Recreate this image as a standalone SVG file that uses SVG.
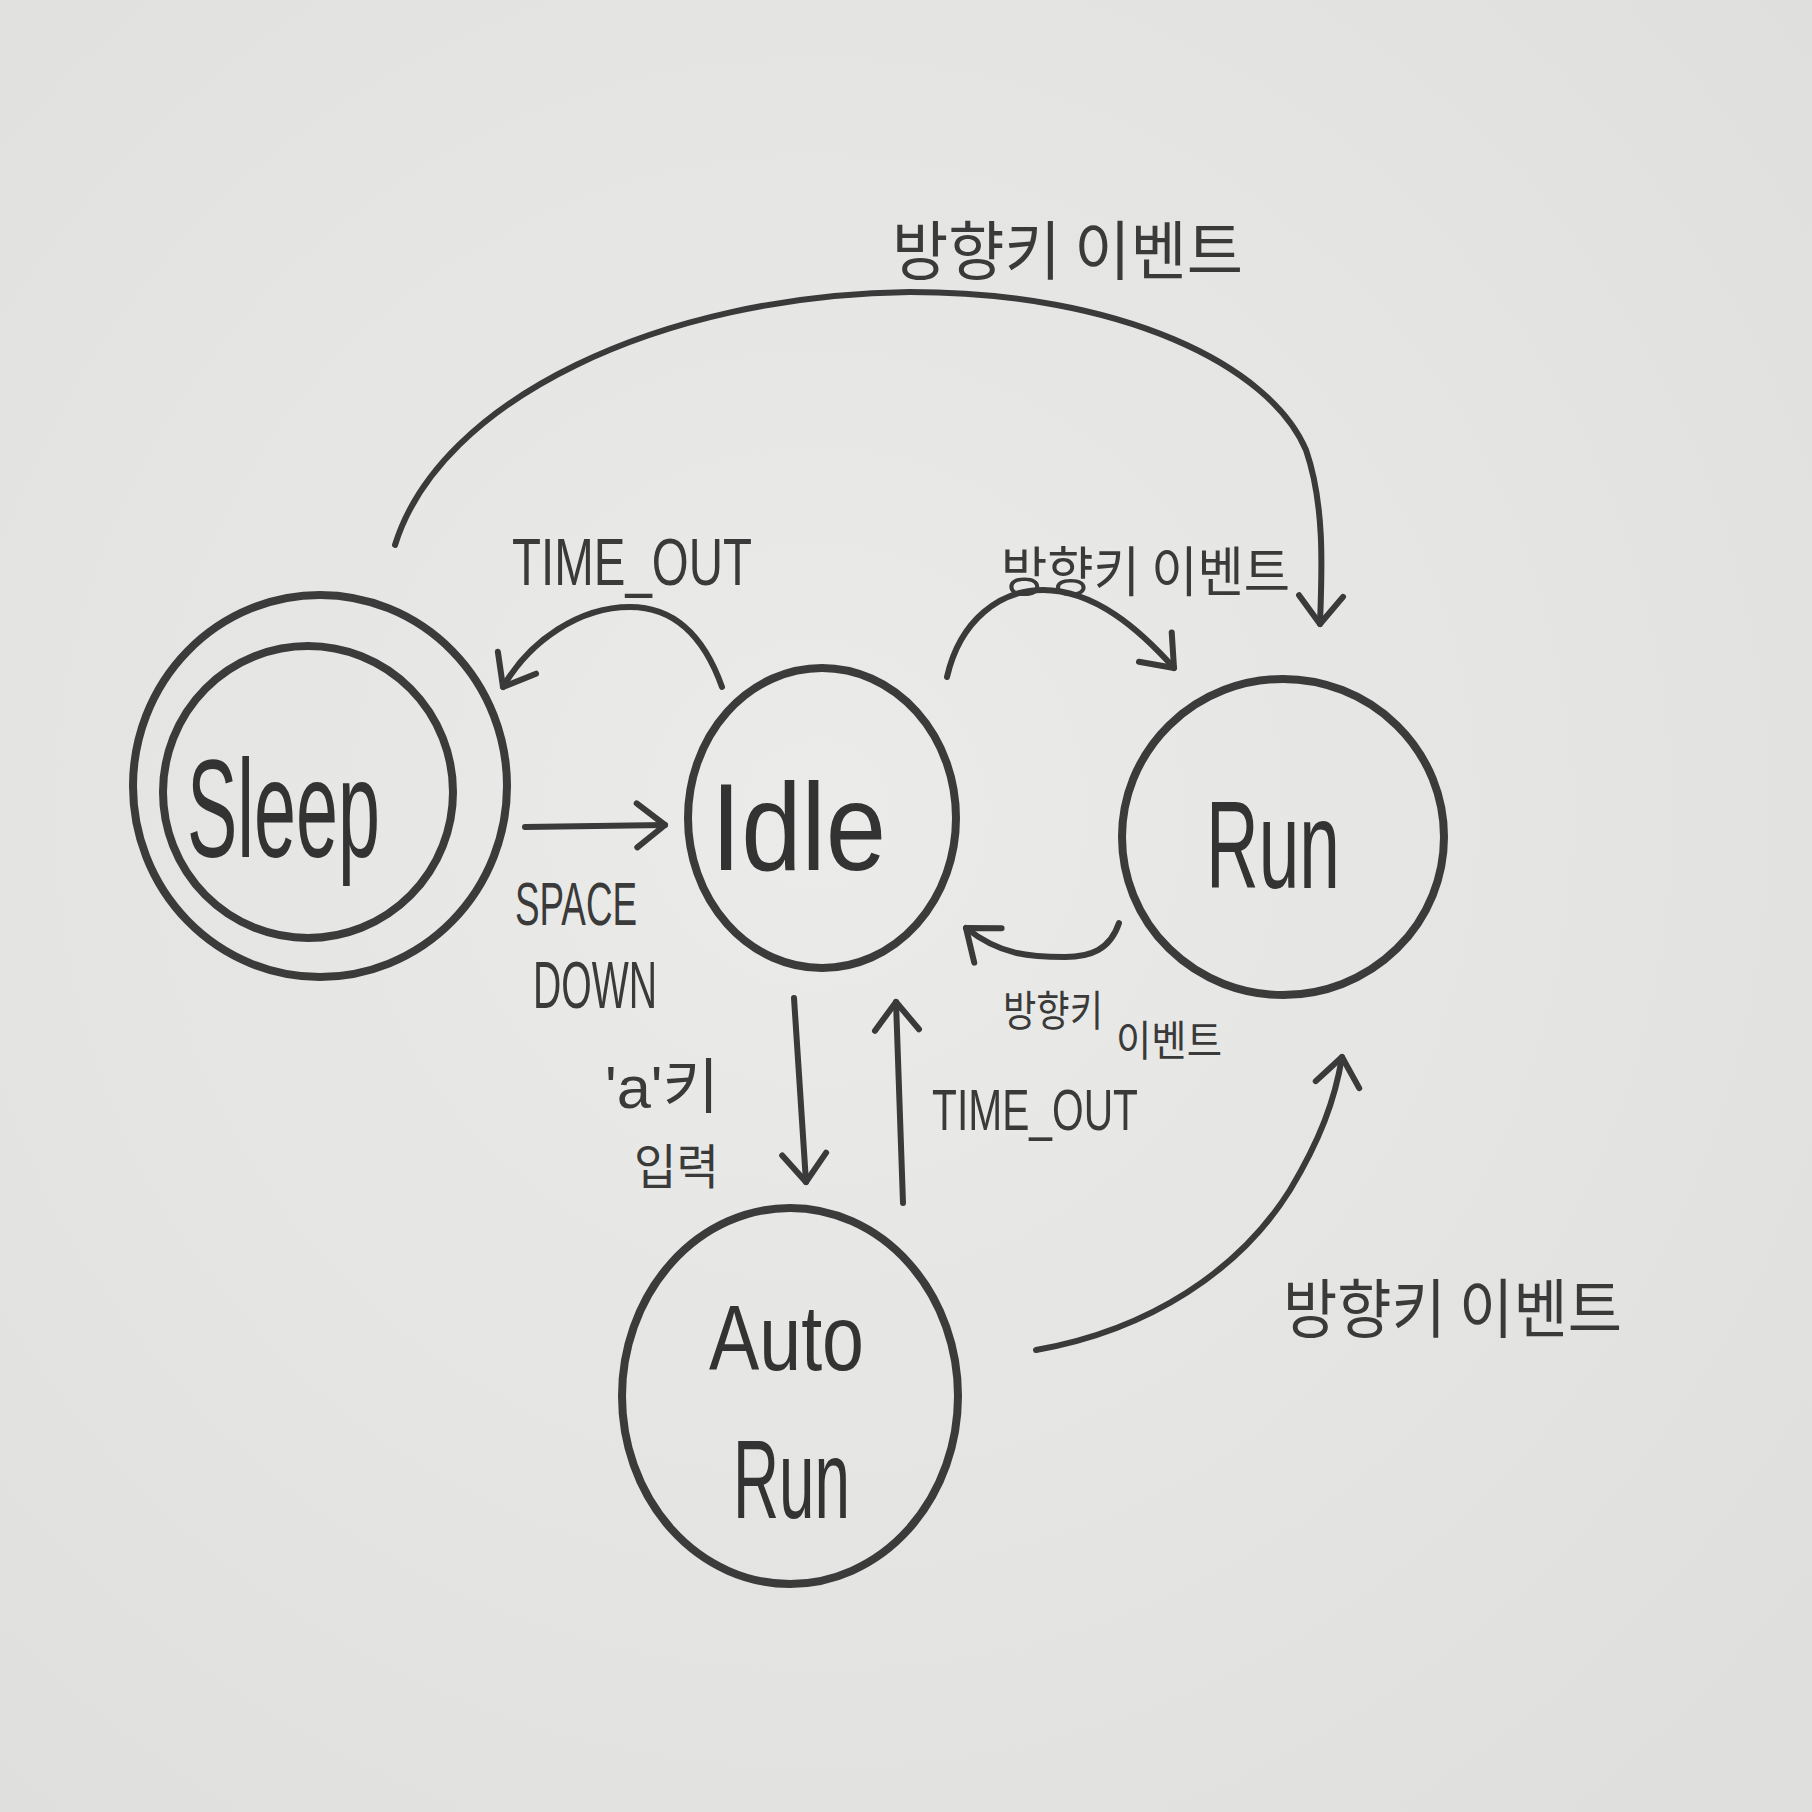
<svg xmlns="http://www.w3.org/2000/svg" width="1812" height="1812" viewBox="0 0 1812 1812">
  <defs>
    <radialGradient id="paper" cx="0.45" cy="0.45" r="0.8">
      <stop offset="0" stop-color="#ebebe9"/>
      <stop offset="1" stop-color="#dededc"/>
    </radialGradient>
    <marker id="head" markerUnits="userSpaceOnUse" markerWidth="60" markerHeight="60" viewBox="-40 -30 50 60" refX="0" refY="0" orient="auto">
      <path d="M-28,-22 L0,0 L-28,22" fill="none" stroke="#3a3a3a" stroke-width="6" stroke-linecap="round" stroke-linejoin="round"/>
    </marker>
    <style>
      .node { fill: none; stroke: #3b3b3b; stroke-width: 8; }
      .edge { fill: none; stroke: #3a3a3a; stroke-width: 6; stroke-linecap: round; marker-end: url(#head); }
      .name { font-family: "Liberation Sans", Arial, sans-serif; fill: #333333; }
      .lat { font-family: "Liberation Sans", Arial, "Noto Sans CJK KR", sans-serif; fill: #3a3a3a; }
      .kr { font-family: "Noto Sans CJK KR", "Noto Sans CJK SC", sans-serif; fill: #3a3a3a; }
    </style>
  </defs>

  <rect x="0" y="0" width="1812" height="1812" fill="url(#paper)"/>

  <g id="node-sleep">
    <ellipse class="node" cx="320" cy="786" rx="187" ry="191"/>
    <ellipse class="node" cx="308" cy="792" rx="145" ry="146"/>
    <text class="name" x="187" y="857" font-size="140" textLength="193" lengthAdjust="spacingAndGlyphs">Sleep</text>
  </g>

  <g id="node-idle">
    <ellipse class="node" cx="822" cy="818" rx="134" ry="150"/>
    <text class="name" x="711" y="870" font-size="125" textLength="175" lengthAdjust="spacingAndGlyphs">Idle</text>
  </g>

  <g id="node-run">
    <ellipse class="node" cx="1283" cy="837" rx="161" ry="158"/>
    <text class="name" x="1206" y="888" font-size="125" textLength="134" lengthAdjust="spacingAndGlyphs">Run</text>
  </g>

  <g id="node-autorun">
    <ellipse class="node" cx="790" cy="1396" rx="168" ry="188"/>
    <text class="name" x="709" y="1370" font-size="93" textLength="155" lengthAdjust="spacingAndGlyphs">Auto</text>
    <text class="name" x="733" y="1518" font-size="112" textLength="117" lengthAdjust="spacingAndGlyphs">Run</text>
  </g>

  <g id="connectors">
    <path class="edge" d="M395,545 C440,400 660,295 910,292 C1120,292 1270,365 1306,450 C1325,505 1322,570 1320,624"/>
    <path class="edge" d="M722,687 C700,625 665,607 630,607 C580,607 530,640 503,687"/>
    <path class="edge" d="M947,677 C960,620 1000,590 1043,590 C1095,590 1140,630 1174,668"/>
    <path class="edge" d="M525,827 L665,825"/>
    <path class="edge" d="M1119,923 C1110,950 1090,957 1065,957 C1030,957 1000,955 966,928"/>
    <path class="edge" d="M794,998 L806,1182"/>
    <path class="edge" d="M903,1203 L896,1002"/>
    <path class="edge" d="M1036,1350 C1150,1330 1240,1270 1290,1190 C1320,1140 1335,1100 1342,1057"/>
  </g>

  <g id="labels">
    <text class="kr" x="892" y="274" font-size="64" textLength="351" lengthAdjust="spacingAndGlyphs">방향키 이벤트</text>
    <text class="lat" x="512" y="585" font-size="66" textLength="240" lengthAdjust="spacingAndGlyphs">TIME_OUT</text>
    <text class="kr" x="1001" y="592" font-size="54" textLength="289" lengthAdjust="spacingAndGlyphs">방향키 이벤트</text>
    <text class="lat" x="515" y="925" font-size="62" textLength="122" lengthAdjust="spacingAndGlyphs">SPACE</text>
    <text class="lat" x="533" y="1008" font-size="66" textLength="124" lengthAdjust="spacingAndGlyphs">DOWN</text>
    <text class="kr" font-size="42"><tspan x="1003" y="1026" textLength="100" lengthAdjust="spacingAndGlyphs">방향키</tspan> <tspan x="1116" y="1056" textLength="106" lengthAdjust="spacingAndGlyphs">이벤트</tspan></text>
    <text class="lat" x="605" y="1108" font-size="60" textLength="114" lengthAdjust="spacingAndGlyphs">'a'키</text>
    <text class="kr" x="634" y="1184" font-size="48" textLength="85" lengthAdjust="spacingAndGlyphs">입력</text>
    <text class="lat" x="932" y="1130" font-size="58" textLength="206" lengthAdjust="spacingAndGlyphs">TIME_OUT</text>
    <text class="kr" x="1283" y="1332" font-size="64" textLength="339" lengthAdjust="spacingAndGlyphs">방향키 이벤트</text>
  </g>
</svg>
